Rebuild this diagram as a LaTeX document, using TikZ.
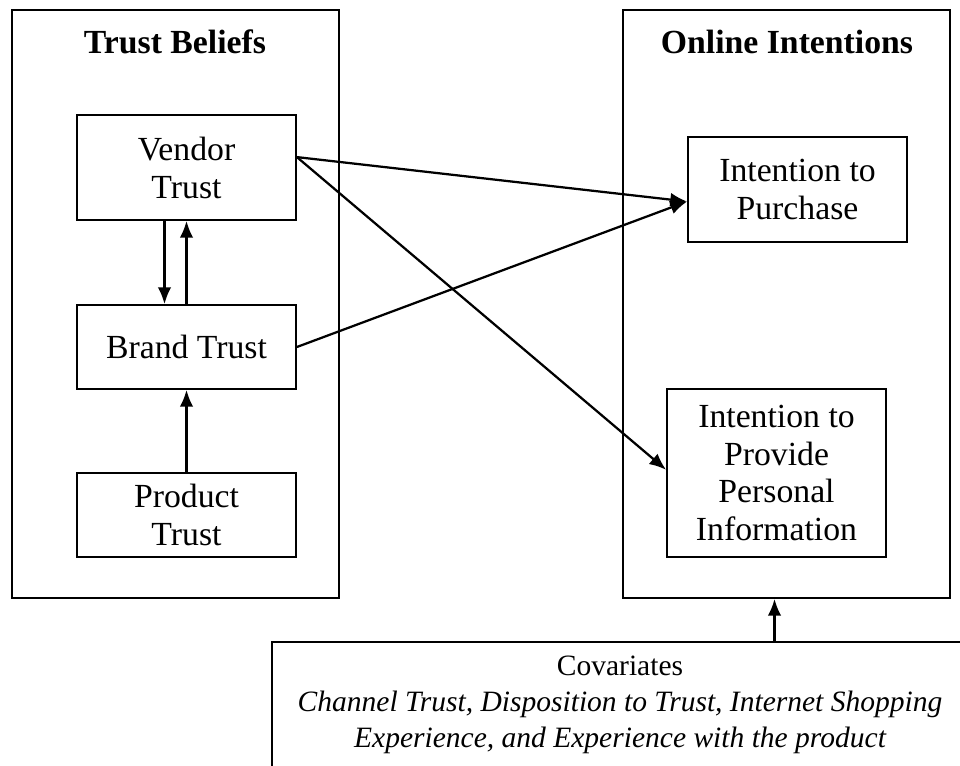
\documentclass[tikz,border=0pt]{standalone}
\usepackage{fontspec}
\setmainfont{Liberation Serif}
\usetikzlibrary{arrows.meta}

\begin{document}
\begin{tikzpicture}[
 box/.style={draw,line width=1.3pt,minimum width=5.475cm,align=center,
  font=\fontsize{24}{27}\selectfont},
 frame/.style={draw,line width=1.3pt,minimum width=8.175cm,minimum height=14.7cm},
 title/.style={font=\fontsize{24}{27}\selectfont\bfseries},
 arr/.style={line width=1.6pt,-{Latex[length=.42cm,width=.34cm]}},
 ]
 \useasboundingbox (0,0) rectangle (24,19.125);
 \clip (0,0) rectangle (24,19.125);

 %Rahmen
 \node[frame] (beliefs) at (4.3875,11.525) {};
 \node[frame] (online)  at (19.6625,11.525) {};
 \node[title] (tb) at (4.375,18.075)  {Trust Beliefs};
 \node[title] (oi) at (19.675,18.075) {Online Intentions};

 %Vertrauen
 \node[box,minimum height=2.625cm] (vendor)  at (4.6625,14.9375) {Vendor\\Trust};
 \node[box,minimum height=2.1cm]   (brand)   at (4.6625,10.45)   {Brand Trust};
 \node[box,minimum height=2.1cm]   (product) at (4.6625,6.25)    {Product\\Trust};

 %Absichten
 \node[box,minimum height=2.625cm] (purchase) at (19.9375,14.3875) {Intention to\\Purchase};
 \node[box,minimum height=4.2cm]   (provide)  at (19.4125,7.3)
  {Intention to\\Provide\\Personal\\Information};

 %Kovariaten
 \node[draw,line width=1.3pt,anchor=north,minimum width=17.4cm,align=center,
  inner ysep=.35cm,text depth=2.5cm,
  font=\fontsize{21}{25.5}\selectfont] (cov) at (15.5,3.1)
  {Covariates\\\itshape Channel Trust, Disposition to Trust, Internet Shopping\\
  \itshape Experience, and Experience with the product};

 %Pfeile
 \draw[arr] ([xshift=-.55cm]vendor.south) -- ([xshift=-.55cm]brand.north);
 \draw[arr] (brand) -- (vendor);
 \draw[arr] (product) -- (brand);
 \draw[arr] ([yshift=.26cm]vendor.east) -- ([yshift=-.3cm]purchase.west);
 \draw[arr] (brand.east) -- ([yshift=-.3cm]purchase.west);
 \draw[arr] ([yshift=.26cm]vendor.east) -- ([yshift=.08cm]provide.west);
 \draw[arr] ([xshift=-.3cm]online.south |- cov.north) -- ([xshift=-.3cm]online.south);
\end{tikzpicture}
\end{document}
